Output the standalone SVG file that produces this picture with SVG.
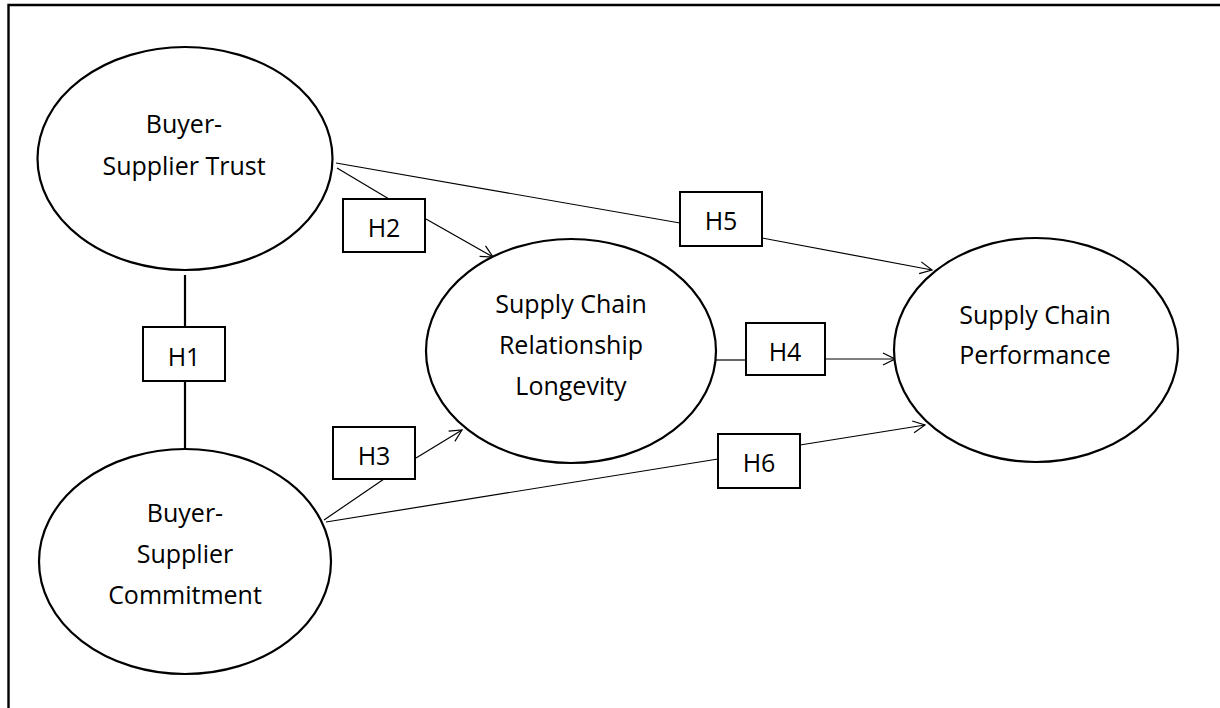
<svg xmlns="http://www.w3.org/2000/svg" width="1220" height="708" viewBox="0 0 1220 708">
<style>
.node ellipse{fill:#fff;stroke:#000;stroke-width:2.2}
.box rect{fill:#fff;stroke:#000;stroke-width:2}
text{font-family:"Open Sans","Liberation Sans",sans-serif;font-size:25px;fill:#000;text-anchor:middle}
.thin{stroke:#000;stroke-width:1.2;fill:none}
.thick{stroke:#000;stroke-width:2.2;fill:none}
</style>
<defs>
<marker id="arr" viewBox="0 0 14 14" refX="13" refY="7" markerWidth="14" markerHeight="14" markerUnits="userSpaceOnUse" orient="auto">
<path d="M1 1 L13 7 L1 13" fill="none" stroke="#000" stroke-width="1.2"/>
</marker>
</defs>
<rect width="1220" height="708" fill="#fff"/>
<path d="M8.5 708 V5 H1220" fill="none" stroke="#000" stroke-width="2.4"/>
<g id="connectors">
<line class="thick" x1="185" y1="275" x2="185" y2="327"/>
<line class="thick" x1="185" y1="381" x2="185" y2="449"/>
<line class="thin" x1="337" y1="168" x2="389" y2="199"/>
<line class="thin" x1="426" y1="219" x2="493" y2="257" marker-end="url(#arr)"/>
<line class="thin" x1="336" y1="163" x2="680" y2="223"/>
<line class="thin" x1="762" y1="238" x2="932" y2="270" marker-end="url(#arr)"/>
<line class="thin" x1="716" y1="360" x2="746" y2="360"/>
<line class="thin" x1="825" y1="359" x2="895" y2="359" marker-end="url(#arr)"/>
<line class="thin" x1="324" y1="520" x2="384" y2="479"/>
<line class="thin" x1="416" y1="458" x2="462" y2="430" marker-end="url(#arr)"/>
<line class="thin" x1="326" y1="522" x2="718" y2="459"/>
<line class="thin" x1="800" y1="445" x2="925" y2="425" marker-end="url(#arr)"/>
</g>
<g id="trust" class="node">
<ellipse cx="185" cy="158.5" rx="147.5" ry="111.5"/>
<text x="184" y="133">Buyer-</text>
<text x="184" y="175">Supplier Trust</text>
</g>
<g id="commitment" class="node">
<ellipse cx="185" cy="561.5" rx="146" ry="112.5"/>
<text x="185" y="522">Buyer-</text>
<text x="185" y="563">Supplier</text>
<text x="185" y="604">Commitment</text>
</g>
<g id="longevity" class="node">
<ellipse cx="571" cy="351" rx="145" ry="112"/>
<text x="571" y="313">Supply Chain</text>
<text x="571" y="354">Relationship</text>
<text x="571" y="395">Longevity</text>
</g>
<g id="performance" class="node">
<ellipse cx="1036" cy="350" rx="142" ry="112"/>
<text x="1035" y="324">Supply Chain</text>
<text x="1035" y="364">Performance</text>
</g>
<g id="h1" class="box"><rect x="143" y="327" width="82" height="54"/><text x="184" y="366">H1</text></g>
<g id="h2" class="box"><rect x="343" y="199" width="82" height="53"/><text x="384" y="237">H2</text></g>
<g id="h3" class="box"><rect x="333" y="427" width="82" height="52"/><text x="374" y="465">H3</text></g>
<g id="h4" class="box"><rect x="746" y="323" width="79" height="52"/><text x="785" y="361">H4</text></g>
<g id="h5" class="box"><rect x="680" y="192" width="82" height="54"/><text x="721" y="230">H5</text></g>
<g id="h6" class="box"><rect x="718" y="434" width="82" height="54"/><text x="759" y="472">H6</text></g>
</svg>
